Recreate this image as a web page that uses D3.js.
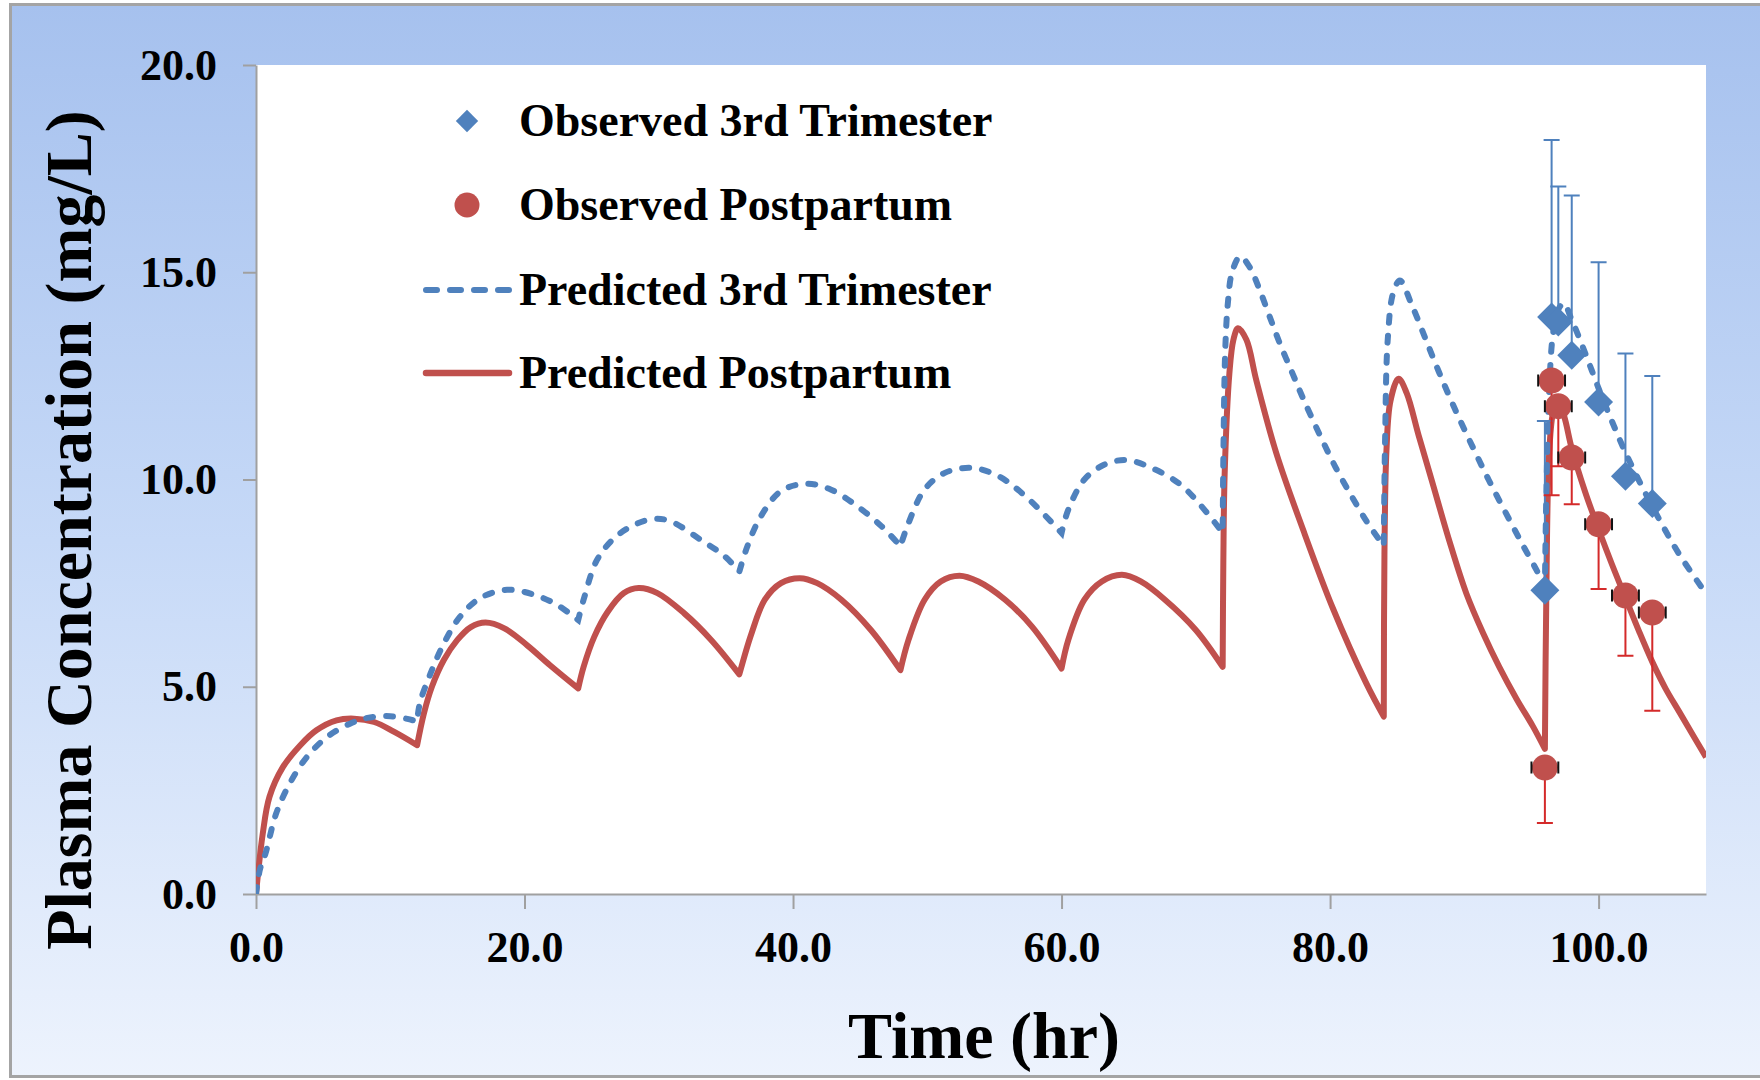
<!DOCTYPE html>
<html lang="en">
<script src="https://d3js.org/d3.v7.min.js"></script>
<style>
    body {margin: 0; background: #fff;}
    text {font-family: "Liberation Serif", "Times New Roman", serif; font-weight: bold; fill: #000;}
    .axis path, .axis line {stroke: #a0a0a0; stroke-width: 2;}
    .axis text {font-size: 44px;}
    .legend text {font-size: 46px;}
    .title {font-size: 66px;}
</style>
<body>
    <svg width="1760" height="1080"></svg>
</body>
<script>
    // predicted curves
    var triTime = [0, 0.3, 0.7, 1.5, 2.5, 3.8, 5.3, 7.0, 8.3, 10.0, 11.7, 12.0, 12.2, 13.0, 14.0, 15.2, 16.7, 18.7, 20.7, 22.4, 24.0,
        24.4, 25.4, 26.7, 28.2, 29.7, 30.9, 33.1, 34.9, 36.0, 36.6, 37.6, 39.1, 41.0, 42.8, 44.8, 46.6, 48.0,
        48.6, 49.8, 51.3, 53.3, 55.3, 57.3, 60.0, 60.5, 61.7, 63.2, 64.8, 66.7, 69.0, 72.0,
        72.05, 72.2, 72.4, 72.7, 73.3, 74.0, 74.76, 75.5, 76.25, 77.2, 78.0, 79.2, 80.4, 81.6, 82.8, 84.0,
        84.1, 84.3, 84.7, 85.2, 86.1, 87.1, 88.1, 89.3, 90.6, 91.8, 93.0, 94.3, 95.4, 96.0,
        96.1, 96.3, 96.6, 97.0, 97.4, 98.0, 99.0, 100.0, 101.0, 102.0, 103.2, 104.5, 106.0, 108.0];
    var triConc = [0, 0.6, 0.97, 1.94, 2.66, 3.31, 3.79, 4.11, 4.25, 4.29, 4.19, 4.15, 4.6, 5.32, 6.05, 6.69, 7.14, 7.34, 7.22, 6.98, 6.61,
        7.1, 8.06, 8.59, 8.91, 9.05, 8.99, 8.55, 8.15, 7.78, 8.39, 9.11, 9.72, 9.9, 9.76, 9.35, 8.87, 8.39,
        8.95, 9.76, 10.16, 10.28, 10.08, 9.6, 8.71, 9.27, 10.0, 10.36, 10.47, 10.28, 9.84, 8.72,
        10.5, 13.2, 14.3, 15.0, 15.38, 15.13, 14.57, 13.93, 13.29, 12.56, 11.95, 11.1, 10.3, 9.6, 8.95, 8.4,
        11.0, 13.4, 14.5, 14.8, 14.2, 13.4, 12.6, 11.7, 10.8, 10.0, 9.25, 8.45, 7.8, 7.4,
        9.5, 12.0, 13.5, 14.1, 14.25, 13.85, 13.05, 12.2, 11.4, 10.65, 9.85, 9.05, 8.2, 7.25];

    var postTime = [0, 0.5, 1.0, 2.0, 3.3, 4.5, 6.0, 7.3, 8.8, 10.3, 12.0, 12.5, 13.1, 14.0, 15.0, 16.0, 17.1, 18.5, 20.2, 21.9, 24.0,
        24.4, 25.2, 26.2, 27.4, 28.5, 29.9, 31.9, 33.9, 36.0, 36.9, 37.9, 39.1, 40.5, 41.8, 43.6, 45.8, 48.0,
        48.6, 49.8, 51.0, 52.4, 53.8, 55.8, 57.8, 60.0, 60.5, 61.7, 63.0, 64.5, 65.9, 67.7, 70.0, 72.0,
        72.05, 72.15, 72.5, 72.8, 73.14, 73.77, 74.5, 76.0, 78.0, 80.2, 82.7, 84.0,
        84.05, 84.2, 84.5, 85.1, 85.7, 86.6, 87.6, 88.9, 90.15, 91.4, 92.6, 93.9, 95.1, 96.0,
        96.1, 96.3, 96.6, 97.0, 97.5, 98.0, 99.0, 100.0, 101.0, 102.0, 103.0, 104.0, 105.0, 106.0, 107.0, 108.0];
    var postConc = [0, 1.45, 2.34, 3.06, 3.59, 3.95, 4.19, 4.23, 4.15, 3.91, 3.59, 4.35, 5.0, 5.65, 6.13, 6.44, 6.55, 6.41, 6.0, 5.52, 4.96,
        5.48, 6.21, 6.81, 7.26, 7.38, 7.26, 6.77, 6.13, 5.3, 6.28, 7.1, 7.5, 7.62, 7.5, 7.1, 6.37, 5.4,
        6.13, 7.1, 7.54, 7.68, 7.54, 7.1, 6.45, 5.44, 6.13, 7.1, 7.54, 7.7, 7.54, 7.1, 6.37, 5.48,
        8.0, 10.15, 12.56, 13.37, 13.65, 13.37, 12.4, 10.63, 8.78, 6.9, 5.08, 4.28,
        8.2, 10.7, 11.9, 12.43, 12.09, 11.06, 9.95, 8.5, 7.25, 6.29, 5.48, 4.7, 4.05, 3.5,
        7.0, 10.5, 11.6, 11.95, 11.45, 10.75, 9.7, 8.8, 7.95, 7.15, 6.35, 5.6, 4.95, 4.4, 3.85, 3.3];

    var doseTimes = [0, 12, 24, 36, 48, 60, 72, 84, 96];

    // observed means with error bars
    var obsTime = [96, 96.5, 97, 98, 100, 102, 104];
    var obsTriConc = [7.33, 13.92, 13.8, 13.0, 11.87, 10.08, 9.42];
    var obsTriSD = [4.08, 4.27, 3.27, 3.85, 3.37, 2.96, 3.08];
    var obsPostConc = [3.05, 12.39, 11.77, 10.53, 8.92, 7.2, 6.79];
    var obsPostSD = [1.34, 2.77, 1.45, 1.13, 1.56, 1.45, 2.37];
    var obsPostTimeSD = [1.0, 1.0, 1.0, 1.0, 1.0, 1.0, 1.0];

    var xTicks = [0, 20, 40, 60, 80, 100];
    var yTicks = [0, 5, 10, 15, 20];

    var legendLabels = ["Observed 3rd Trimester", "Observed Postpartum", "Predicted 3rd Trimester", "Predicted Postpartum"];

    var blue = "#4f81bd", red = "#c0504d";

    var svg = d3.select("svg");

    var defs = svg.append("defs");
    var grad = defs.append("linearGradient").attr("id","bg").attr("x1",0).attr("y1",0).attr("x2",0).attr("y2",1);
    grad.append("stop").attr("offset","0%").attr("stop-color","#a6c1ee");
    grad.append("stop").attr("offset","50%").attr("stop-color","#c6d9f7");
    grad.append("stop").attr("offset","100%").attr("stop-color","#edf3fd");

    svg.append("rect").attr("x",10.5).attr("y",4.5).attr("width",1760).attr("height",1072)
        .attr("fill","url(#bg)").attr("stroke","#a4a4a4").attr("stroke-width",3);

    var x = d3.scaleLinear().domain([0,108]).range([256,1706]);
    var y = d3.scaleLinear().domain([0,20]).range([894,65]);

    svg.append("rect").attr("x",x(0)).attr("y",y(20)).attr("width",x(108)-x(0)).attr("height",y(0)-y(20)).attr("fill","#fff");

    defs.append("clipPath").attr("id","plot").append("rect")
        .attr("x",x(0)).attr("y",y(20)).attr("width",x(108)-x(0)).attr("height",y(0)-y(20));

    // axes
    var fmt = d3.format(".1f");
    svg.append("g").attr("class","axis").attr("transform","translate(0,"+y(0)+")")
        .call(d3.axisBottom(x).tickValues(xTicks).tickFormat(fmt).tickSize(15).tickSizeOuter(0).tickPadding(22));
    svg.append("g").attr("class","axis").attr("transform","translate("+x(0)+",0)")
        .call(d3.axisLeft(y).tickValues(yTicks).tickFormat(fmt).tickSize(13).tickSizeOuter(0).tickPadding(26));
    svg.selectAll(".axis .domain").attr("stroke-width",2.5);

    // predicted lines: smooth within each dosing interval, sharp corner at each dose
    var line = d3.line().x(function(d){return x(d[0]);}).y(function(d){return y(d[1]);}).curve(d3.curveCatmullRom.alpha(0.5));
    function dosePath(ts, cs){
        var pts = d3.zip(ts, cs);
        return doseTimes.map(function(d,i){
            var end = i < doseTimes.length-1 ? doseTimes[i+1] : Infinity;
            return line(pts.filter(function(p){return p[0] >= d && p[0] <= end;}));
        }).map(function(s,i){return i ? s.replace(/^M/,"L") : s;}).join("");
    }

    var lines = svg.append("g").attr("clip-path","url(#plot)");
    lines.append("path").attr("d",dosePath(postTime, postConc))
        .attr("fill","none").attr("stroke",red).attr("stroke-width",6).attr("stroke-linejoin","round");
    lines.append("path").attr("d",dosePath(triTime, triConc))
        .attr("fill","none").attr("stroke",blue).attr("stroke-width",6)
        .attr("stroke-dasharray","7,13").attr("stroke-linecap","round");

    // error bars
    var obs = obsTime.map(function(t,i){
        return {t: t, tri: obsTriConc[i], triSD: obsTriSD[i], post: obsPostConc[i], postSD: obsPostSD[i], tSD: obsPostTimeSD[i]};
    });

    var eb = svg.append("g");
    eb.selectAll(".triBar").data(obs).enter().append("path")
        .attr("d",function(d){
            var cx = x(d.t), top = y(d.tri + d.triSD);
            return "M"+cx+","+y(d.tri)+"V"+top+"M"+(cx-8)+","+top+"H"+(cx+8);
        })
        .attr("stroke",blue).attr("stroke-width",2).attr("fill","none");
    eb.selectAll(".postBar").data(obs).enter().append("path")
        .attr("d",function(d){
            var cx = x(d.t), bot = y(d.post - d.postSD);
            return "M"+cx+","+y(d.post)+"V"+bot+"M"+(cx-8)+","+bot+"H"+(cx+8);
        })
        .attr("stroke","#d42a2a").attr("stroke-width",2).attr("fill","none");

    // observed markers
    var diamond = d3.symbol().type(d3.symbolSquare).size(420);
    svg.append("g").selectAll("path").data(obs).enter().append("path")
        .attr("d",diamond)
        .attr("transform",function(d){return "translate("+x(d.t)+","+y(d.tri)+") rotate(45)";})
        .attr("fill",blue);

    var circles = svg.append("g");
    circles.selectAll("circle").data(obs).enter().append("circle")
        .attr("cx",function(d){return x(d.t);}).attr("cy",function(d){return y(d.post);})
        .attr("r",13).attr("fill",red);
    circles.selectAll(".tbar").data(obs).enter().append("path")
        .attr("d",function(d){
            var cy = y(d.post), l = x(d.t - d.tSD), r = x(d.t + d.tSD);
            return "M"+l+","+(cy-6)+"V"+(cy+6)+"M"+r+","+(cy-6)+"V"+(cy+6);
        })
        .attr("stroke","#111").attr("stroke-width",2).attr("fill","none");

    // legend
    var legend = svg.append("g").attr("class","legend");
    var rowY = [121, 205, 290, 373];
    legend.selectAll("text").data(legendLabels).enter().append("text")
        .attr("x",519).attr("y",function(d,i){return rowY[i]+15;}).text(function(d){return d;});
    legend.append("path").attr("d",d3.symbol().type(d3.symbolSquare).size(250))
        .attr("transform","translate(467,"+rowY[0]+") rotate(45)").attr("fill",blue);
    legend.append("circle").attr("cx",467).attr("cy",rowY[1]).attr("r",12.5).attr("fill",red);
    legend.append("line").attr("x1",426).attr("x2",509).attr("y1",rowY[2]).attr("y2",rowY[2])
        .attr("stroke",blue).attr("stroke-width",6).attr("stroke-dasharray","11,13").attr("stroke-linecap","round");
    legend.append("line").attr("x1",426).attr("x2",509).attr("y1",rowY[3]).attr("y2",rowY[3])
        .attr("stroke",red).attr("stroke-width",6.5).attr("stroke-linecap","round");

    // axis titles
    svg.append("text").attr("class","title").attr("x",984).attr("y",1058)
        .attr("text-anchor","middle").text("Time (hr)");
    svg.append("text").attr("class","title").attr("transform","translate(91,530) rotate(-90)")
        .attr("text-anchor","middle").text("Plasma Concentration (mg/L)");
</script>
</html>
